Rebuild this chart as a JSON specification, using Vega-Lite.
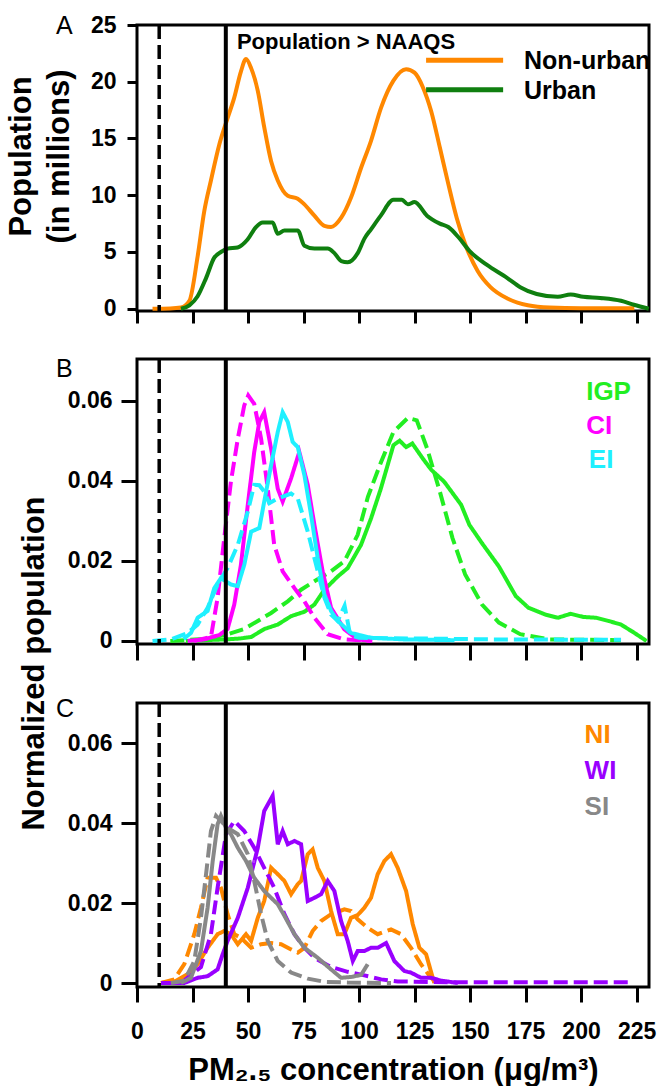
{
  "$schema": "https://vega.github.io/schema/vega-lite/v6.json",
  "padding": {"left": 3, "top": 12, "right": 6, "bottom": 2},
  "background": "white",
  "config": {
    "font": "Liberation Sans",
    "view": {"stroke": "#000", "strokeWidth": 3},
    "axis": {"domain": false, "grid": false, "tickColor": "#000", "tickWidth": 3, "labelFont": "Liberation Sans", "labelFontWeight": "bold", "labelFontSize": 23, "labelColor": "#000", "labelFlush": false, "labelOverlap": false, "titleFont": "Liberation Sans", "titleFontWeight": "bold", "titleFontSize": 31, "titleColor": "#000"}
  },
  "datasets": {
    "a": [
      {"series": "Non-urban", "pm": 7, "pop": 0}, {"series": "Non-urban", "pm": 15, "pop": 0.02}, {"series": "Non-urban", "pm": 19.8, "pop": 0.1}, {"series": "Non-urban", "pm": 23.6, "pop": 0.7}, {"series": "Non-urban", "pm": 27.3, "pop": 4.6}, {"series": "Non-urban", "pm": 30.3, "pop": 8.6}, {"series": "Non-urban", "pm": 33.3, "pop": 11.3}, {"series": "Non-urban", "pm": 37.1, "pop": 14.5}, {"series": "Non-urban", "pm": 40.8, "pop": 16.8}, {"series": "Non-urban", "pm": 43.8, "pop": 18.6}, {"series": "Non-urban", "pm": 46.8, "pop": 20.9}, {"series": "Non-urban", "pm": 49.1, "pop": 22.0}, {"series": "Non-urban", "pm": 51.4, "pop": 21.2}, {"series": "Non-urban", "pm": 54.4, "pop": 19.2}, {"series": "Non-urban", "pm": 57.3, "pop": 16.0}, {"series": "Non-urban", "pm": 60.4, "pop": 13.0}, {"series": "Non-urban", "pm": 63.4, "pop": 11.3}, {"series": "Non-urban", "pm": 67.9, "pop": 9.95}, {"series": "Non-urban", "pm": 72.4, "pop": 9.7}, {"series": "Non-urban", "pm": 75.4, "pop": 9.2}, {"series": "Non-urban", "pm": 79.9, "pop": 8.2}, {"series": "Non-urban", "pm": 84.4, "pop": 7.3}, {"series": "Non-urban", "pm": 87.4, "pop": 7.2}, {"series": "Non-urban", "pm": 91.9, "pop": 8.0}, {"series": "Non-urban", "pm": 96.4, "pop": 9.8}, {"series": "Non-urban", "pm": 100.9, "pop": 12.4}, {"series": "Non-urban", "pm": 105.4, "pop": 14.8}, {"series": "Non-urban", "pm": 109.9, "pop": 17.7}, {"series": "Non-urban", "pm": 115.5, "pop": 20.1}, {"series": "Non-urban", "pm": 121.2, "pop": 21.1}, {"series": "Non-urban", "pm": 125, "pop": 20.8}, {"series": "Non-urban", "pm": 128.8, "pop": 19.5}, {"series": "Non-urban", "pm": 132.5, "pop": 17.4}, {"series": "Non-urban", "pm": 136.4, "pop": 14.2}, {"series": "Non-urban", "pm": 140.2, "pop": 11.0}, {"series": "Non-urban", "pm": 144, "pop": 8.0}, {"series": "Non-urban", "pm": 147.8, "pop": 5.7}, {"series": "Non-urban", "pm": 153.5, "pop": 3.3}, {"series": "Non-urban", "pm": 159.2, "pop": 1.9}, {"series": "Non-urban", "pm": 166.8, "pop": 0.9}, {"series": "Non-urban", "pm": 176, "pop": 0.3}, {"series": "Non-urban", "pm": 185.8, "pop": 0.1}, {"series": "Non-urban", "pm": 200, "pop": 0.05}, {"series": "Non-urban", "pm": 224, "pop": 0.05},
      {"series": "Urban", "pm": 19.8, "pop": 0}, {"series": "Urban", "pm": 23.6, "pop": 0.3}, {"series": "Urban", "pm": 27.3, "pop": 1.1}, {"series": "Urban", "pm": 31.1, "pop": 2.7}, {"series": "Urban", "pm": 34.8, "pop": 4.5}, {"series": "Urban", "pm": 37.8, "pop": 5.0}, {"series": "Urban", "pm": 40.8, "pop": 5.3}, {"series": "Urban", "pm": 45.3, "pop": 5.4}, {"series": "Urban", "pm": 49.8, "pop": 6.1}, {"series": "Urban", "pm": 53.6, "pop": 7.2}, {"series": "Urban", "pm": 56.6, "pop": 7.6}, {"series": "Urban", "pm": 61.1, "pop": 7.6}, {"series": "Urban", "pm": 63.4, "pop": 6.6}, {"series": "Urban", "pm": 66.4, "pop": 6.9}, {"series": "Urban", "pm": 72.4, "pop": 6.9}, {"series": "Urban", "pm": 75.4, "pop": 5.55}, {"series": "Urban", "pm": 79.9, "pop": 5.3}, {"series": "Urban", "pm": 85.9, "pop": 5.3}, {"series": "Urban", "pm": 88.9, "pop": 4.9}, {"series": "Urban", "pm": 92, "pop": 4.2}, {"series": "Urban", "pm": 94.9, "pop": 4.1}, {"series": "Urban", "pm": 99.4, "pop": 4.9}, {"series": "Urban", "pm": 102.5, "pop": 6.2}, {"series": "Urban", "pm": 105.4, "pop": 7.0}, {"series": "Urban", "pm": 109.8, "pop": 8.2}, {"series": "Urban", "pm": 115.5, "pop": 9.6}, {"series": "Urban", "pm": 119.3, "pop": 9.6}, {"series": "Urban", "pm": 122, "pop": 9.2}, {"series": "Urban", "pm": 125, "pop": 9.4}, {"series": "Urban", "pm": 130.6, "pop": 8.2}, {"series": "Urban", "pm": 136.4, "pop": 7.5}, {"series": "Urban", "pm": 140.2, "pop": 7.2}, {"series": "Urban", "pm": 145, "pop": 6.25}, {"series": "Urban", "pm": 149.7, "pop": 5.1}, {"series": "Urban", "pm": 157.3, "pop": 3.9}, {"series": "Urban", "pm": 166.8, "pop": 2.7}, {"series": "Urban", "pm": 172.6, "pop": 1.9}, {"series": "Urban", "pm": 180, "pop": 1.3}, {"series": "Urban", "pm": 189.5, "pop": 1.05}, {"series": "Urban", "pm": 195.3, "pop": 1.25}, {"series": "Urban", "pm": 201, "pop": 1.05}, {"series": "Urban", "pm": 208.6, "pop": 0.95}, {"series": "Urban", "pm": 218, "pop": 0.7}, {"series": "Urban", "pm": 223.8, "pop": 0.35}, {"series": "Urban", "pm": 230.5, "pop": 0}
    ],
    "b": [
      {"region": "IGP", "line": "solid", "pm": 22, "pop": 0}, {"region": "IGP", "line": "solid", "pm": 30, "pop": 0.0002}, {"region": "IGP", "line": "solid", "pm": 40, "pop": 0.0004}, {"region": "IGP", "line": "solid", "pm": 46, "pop": 0.0006}, {"region": "IGP", "line": "solid", "pm": 51.4, "pop": 0.001}, {"region": "IGP", "line": "solid", "pm": 57.4, "pop": 0.003}, {"region": "IGP", "line": "solid", "pm": 63.4, "pop": 0.0041}, {"region": "IGP", "line": "solid", "pm": 69.4, "pop": 0.0062}, {"region": "IGP", "line": "solid", "pm": 75.4, "pop": 0.0073}, {"region": "IGP", "line": "solid", "pm": 79.9, "pop": 0.0091}, {"region": "IGP", "line": "solid", "pm": 84.4, "pop": 0.0128}, {"region": "IGP", "line": "solid", "pm": 90.4, "pop": 0.0161}, {"region": "IGP", "line": "solid", "pm": 94.9, "pop": 0.0182}, {"region": "IGP", "line": "solid", "pm": 100.9, "pop": 0.024}, {"region": "IGP", "line": "solid", "pm": 105.4, "pop": 0.0306}, {"region": "IGP", "line": "solid", "pm": 109.8, "pop": 0.038}, {"region": "IGP", "line": "solid", "pm": 115.5, "pop": 0.0489}, {"region": "IGP", "line": "solid", "pm": 118.3, "pop": 0.05}, {"region": "IGP", "line": "solid", "pm": 121.2, "pop": 0.0484}, {"region": "IGP", "line": "solid", "pm": 124, "pop": 0.0493}, {"region": "IGP", "line": "solid", "pm": 128.8, "pop": 0.0455}, {"region": "IGP", "line": "solid", "pm": 132.6, "pop": 0.0427}, {"region": "IGP", "line": "solid", "pm": 138.3, "pop": 0.0398}, {"region": "IGP", "line": "solid", "pm": 146, "pop": 0.034}, {"region": "IGP", "line": "solid", "pm": 149.7, "pop": 0.029}, {"region": "IGP", "line": "solid", "pm": 155.4, "pop": 0.0244}, {"region": "IGP", "line": "solid", "pm": 163, "pop": 0.0186}, {"region": "IGP", "line": "solid", "pm": 170.6, "pop": 0.0112}, {"region": "IGP", "line": "solid", "pm": 176.3, "pop": 0.0083}, {"region": "IGP", "line": "solid", "pm": 183.9, "pop": 0.0066}, {"region": "IGP", "line": "solid", "pm": 189.6, "pop": 0.0058}, {"region": "IGP", "line": "solid", "pm": 195.3, "pop": 0.0068}, {"region": "IGP", "line": "solid", "pm": 201, "pop": 0.006}, {"region": "IGP", "line": "solid", "pm": 206.7, "pop": 0.0058}, {"region": "IGP", "line": "solid", "pm": 212.4, "pop": 0.005}, {"region": "IGP", "line": "solid", "pm": 218, "pop": 0.0041}, {"region": "IGP", "line": "solid", "pm": 223.8, "pop": 0.0021}, {"region": "IGP", "line": "solid", "pm": 229.5, "pop": 0},
      {"region": "IGP", "line": "dashed", "pm": 15, "pop": 0}, {"region": "IGP", "line": "dashed", "pm": 30, "pop": 0.0005}, {"region": "IGP", "line": "dashed", "pm": 40.8, "pop": 0.0017}, {"region": "IGP", "line": "dashed", "pm": 48.3, "pop": 0.003}, {"region": "IGP", "line": "dashed", "pm": 54.4, "pop": 0.005}, {"region": "IGP", "line": "dashed", "pm": 60.4, "pop": 0.007}, {"region": "IGP", "line": "dashed", "pm": 67.9, "pop": 0.0099}, {"region": "IGP", "line": "dashed", "pm": 73.9, "pop": 0.0128}, {"region": "IGP", "line": "dashed", "pm": 79.9, "pop": 0.0149}, {"region": "IGP", "line": "dashed", "pm": 87.4, "pop": 0.0174}, {"region": "IGP", "line": "dashed", "pm": 93.4, "pop": 0.0199}, {"region": "IGP", "line": "dashed", "pm": 99.4, "pop": 0.0265}, {"region": "IGP", "line": "dashed", "pm": 104, "pop": 0.036}, {"region": "IGP", "line": "dashed", "pm": 109.8, "pop": 0.0445}, {"region": "IGP", "line": "dashed", "pm": 115.5, "pop": 0.0522}, {"region": "IGP", "line": "dashed", "pm": 122, "pop": 0.0557}, {"region": "IGP", "line": "dashed", "pm": 126, "pop": 0.0551}, {"region": "IGP", "line": "dashed", "pm": 130.7, "pop": 0.048}, {"region": "IGP", "line": "dashed", "pm": 136.4, "pop": 0.0373}, {"region": "IGP", "line": "dashed", "pm": 142.1, "pop": 0.0257}, {"region": "IGP", "line": "dashed", "pm": 147.8, "pop": 0.0166}, {"region": "IGP", "line": "dashed", "pm": 155.4, "pop": 0.0091}, {"region": "IGP", "line": "dashed", "pm": 163, "pop": 0.0046}, {"region": "IGP", "line": "dashed", "pm": 172.6, "pop": 0.0017}, {"region": "IGP", "line": "dashed", "pm": 185.8, "pop": 0.0004}, {"region": "IGP", "line": "dashed", "pm": 218, "pop": 0.0002},
      {"region": "CI", "line": "solid", "pm": 22.8, "pop": 0}, {"region": "CI", "line": "solid", "pm": 30.3, "pop": 0.0004}, {"region": "CI", "line": "solid", "pm": 37.1, "pop": 0.0015}, {"region": "CI", "line": "solid", "pm": 40.8, "pop": 0.003}, {"region": "CI", "line": "solid", "pm": 43.8, "pop": 0.0091}, {"region": "CI", "line": "solid", "pm": 46.8, "pop": 0.019}, {"region": "CI", "line": "solid", "pm": 49.9, "pop": 0.034}, {"region": "CI", "line": "solid", "pm": 52.8, "pop": 0.0472}, {"region": "CI", "line": "solid", "pm": 55.1, "pop": 0.0547}, {"region": "CI", "line": "solid", "pm": 57.3, "pop": 0.0571}, {"region": "CI", "line": "solid", "pm": 60.4, "pop": 0.048}, {"region": "CI", "line": "solid", "pm": 63.4, "pop": 0.038}, {"region": "CI", "line": "solid", "pm": 65.6, "pop": 0.0348}, {"region": "CI", "line": "solid", "pm": 69.4, "pop": 0.0406}, {"region": "CI", "line": "solid", "pm": 73.1, "pop": 0.0472}, {"region": "CI", "line": "solid", "pm": 76.9, "pop": 0.039}, {"region": "CI", "line": "solid", "pm": 79.9, "pop": 0.029}, {"region": "CI", "line": "solid", "pm": 83.6, "pop": 0.0174}, {"region": "CI", "line": "solid", "pm": 87.4, "pop": 0.0083}, {"region": "CI", "line": "solid", "pm": 93.4, "pop": 0.0029}, {"region": "CI", "line": "solid", "pm": 99.4, "pop": 0.0004}, {"region": "CI", "line": "solid", "pm": 106, "pop": 0},
      {"region": "CI", "line": "dashed", "pm": 25.7, "pop": 0}, {"region": "CI", "line": "dashed", "pm": 33.3, "pop": 0.001}, {"region": "CI", "line": "dashed", "pm": 36.3, "pop": 0.0108}, {"region": "CI", "line": "dashed", "pm": 39.3, "pop": 0.0257}, {"region": "CI", "line": "dashed", "pm": 42.3, "pop": 0.0398}, {"region": "CI", "line": "dashed", "pm": 45.4, "pop": 0.0505}, {"region": "CI", "line": "dashed", "pm": 48.3, "pop": 0.0588}, {"region": "CI", "line": "dashed", "pm": 50.1, "pop": 0.0613}, {"region": "CI", "line": "dashed", "pm": 52.8, "pop": 0.0592}, {"region": "CI", "line": "dashed", "pm": 55.9, "pop": 0.0505}, {"region": "CI", "line": "dashed", "pm": 58.9, "pop": 0.038}, {"region": "CI", "line": "dashed", "pm": 61.8, "pop": 0.024}, {"region": "CI", "line": "dashed", "pm": 65.6, "pop": 0.0174}, {"region": "CI", "line": "dashed", "pm": 70.9, "pop": 0.0132}, {"region": "CI", "line": "dashed", "pm": 75.4, "pop": 0.0099}, {"region": "CI", "line": "dashed", "pm": 79.9, "pop": 0.0058}, {"region": "CI", "line": "dashed", "pm": 85.9, "pop": 0.0017}, {"region": "CI", "line": "dashed", "pm": 93.4, "pop": 0.0004}, {"region": "CI", "line": "dashed", "pm": 105.4, "pop": 0},
      {"region": "EI", "line": "solid", "pm": 21, "pop": 0.0005}, {"region": "EI", "line": "solid", "pm": 24.3, "pop": 0.002}, {"region": "EI", "line": "solid", "pm": 27.3, "pop": 0.0058}, {"region": "EI", "line": "solid", "pm": 31.8, "pop": 0.0075}, {"region": "EI", "line": "solid", "pm": 34.8, "pop": 0.0132}, {"region": "EI", "line": "solid", "pm": 37.8, "pop": 0.0157}, {"region": "EI", "line": "solid", "pm": 42.3, "pop": 0.0141}, {"region": "EI", "line": "solid", "pm": 45.4, "pop": 0.0137}, {"region": "EI", "line": "solid", "pm": 48.3, "pop": 0.019}, {"region": "EI", "line": "solid", "pm": 51.4, "pop": 0.0273}, {"region": "EI", "line": "solid", "pm": 55.1, "pop": 0.0282}, {"region": "EI", "line": "solid", "pm": 57.3, "pop": 0.0348}, {"region": "EI", "line": "solid", "pm": 60.4, "pop": 0.0439}, {"region": "EI", "line": "solid", "pm": 63.4, "pop": 0.0522}, {"region": "EI", "line": "solid", "pm": 65.6, "pop": 0.0571}, {"region": "EI", "line": "solid", "pm": 67.9, "pop": 0.0547}, {"region": "EI", "line": "solid", "pm": 70.1, "pop": 0.0497}, {"region": "EI", "line": "solid", "pm": 72.4, "pop": 0.0484}, {"region": "EI", "line": "solid", "pm": 75.4, "pop": 0.0414}, {"region": "EI", "line": "solid", "pm": 78.4, "pop": 0.0315}, {"region": "EI", "line": "solid", "pm": 81.4, "pop": 0.0207}, {"region": "EI", "line": "solid", "pm": 84.4, "pop": 0.0116}, {"region": "EI", "line": "solid", "pm": 87.4, "pop": 0.0075}, {"region": "EI", "line": "solid", "pm": 90.4, "pop": 0.005}, {"region": "EI", "line": "solid", "pm": 96.4, "pop": 0.002}, {"region": "EI", "line": "solid", "pm": 105.4, "pop": 0.0008}, {"region": "EI", "line": "solid", "pm": 120, "pop": 0.0004}, {"region": "EI", "line": "solid", "pm": 143, "pop": 0.0002},
      {"region": "EI", "line": "dashed", "pm": 7, "pop": 0}, {"region": "EI", "line": "dashed", "pm": 15.3, "pop": 0.0004}, {"region": "EI", "line": "dashed", "pm": 22.8, "pop": 0.002}, {"region": "EI", "line": "dashed", "pm": 27.3, "pop": 0.0041}, {"region": "EI", "line": "dashed", "pm": 31.8, "pop": 0.0083}, {"region": "EI", "line": "dashed", "pm": 36.3, "pop": 0.0141}, {"region": "EI", "line": "dashed", "pm": 40.8, "pop": 0.0182}, {"region": "EI", "line": "dashed", "pm": 45.4, "pop": 0.024}, {"region": "EI", "line": "dashed", "pm": 49.9, "pop": 0.0323}, {"region": "EI", "line": "dashed", "pm": 52.8, "pop": 0.039}, {"region": "EI", "line": "dashed", "pm": 55.1, "pop": 0.0389}, {"region": "EI", "line": "dashed", "pm": 57.3, "pop": 0.0373}, {"region": "EI", "line": "dashed", "pm": 59.6, "pop": 0.0344}, {"region": "EI", "line": "dashed", "pm": 63.4, "pop": 0.0356}, {"region": "EI", "line": "dashed", "pm": 69.4, "pop": 0.0368}, {"region": "EI", "line": "dashed", "pm": 72.4, "pop": 0.0356}, {"region": "EI", "line": "dashed", "pm": 76.9, "pop": 0.0273}, {"region": "EI", "line": "dashed", "pm": 81.4, "pop": 0.0174}, {"region": "EI", "line": "dashed", "pm": 84.4, "pop": 0.0108}, {"region": "EI", "line": "dashed", "pm": 87.4, "pop": 0.0066}, {"region": "EI", "line": "dashed", "pm": 90.4, "pop": 0.005}, {"region": "EI", "line": "dashed", "pm": 93.5, "pop": 0.0088}, {"region": "EI", "line": "dashed", "pm": 96, "pop": 0.0015}, {"region": "EI", "line": "dashed", "pm": 100, "pop": 0.0008}, {"region": "EI", "line": "dashed", "pm": 160, "pop": 0.0004}, {"region": "EI", "line": "dashed", "pm": 218, "pop": 0.0003}
    ],
    "c": [
      {"region": "NI", "line": "solid", "pm": 10.8, "pop": 0}, {"region": "NI", "line": "solid", "pm": 16.8, "pop": 0.0003}, {"region": "NI", "line": "solid", "pm": 22.8, "pop": 0.0022}, {"region": "NI", "line": "solid", "pm": 27.3, "pop": 0.0047}, {"region": "NI", "line": "solid", "pm": 31.8, "pop": 0.0088}, {"region": "NI", "line": "solid", "pm": 36.3, "pop": 0.0122}, {"region": "NI", "line": "solid", "pm": 39.3, "pop": 0.013}, {"region": "NI", "line": "solid", "pm": 42.3, "pop": 0.0122}, {"region": "NI", "line": "solid", "pm": 45.4, "pop": 0.0097}, {"region": "NI", "line": "solid", "pm": 49.1, "pop": 0.0122}, {"region": "NI", "line": "solid", "pm": 51.4, "pop": 0.0105}, {"region": "NI", "line": "solid", "pm": 54.4, "pop": 0.0163}, {"region": "NI", "line": "solid", "pm": 57.3, "pop": 0.0205}, {"region": "NI", "line": "solid", "pm": 60.4, "pop": 0.0288}, {"region": "NI", "line": "solid", "pm": 63.4, "pop": 0.0272}, {"region": "NI", "line": "solid", "pm": 66.4, "pop": 0.0255}, {"region": "NI", "line": "solid", "pm": 69.4, "pop": 0.0222}, {"region": "NI", "line": "solid", "pm": 72.4, "pop": 0.0247}, {"region": "NI", "line": "solid", "pm": 73.9, "pop": 0.0255}, {"region": "NI", "line": "solid", "pm": 76.9, "pop": 0.0322}, {"region": "NI", "line": "solid", "pm": 79.1, "pop": 0.0334}, {"region": "NI", "line": "solid", "pm": 81.4, "pop": 0.0288}, {"region": "NI", "line": "solid", "pm": 84.4, "pop": 0.0255}, {"region": "NI", "line": "solid", "pm": 87.4, "pop": 0.018}, {"region": "NI", "line": "solid", "pm": 90.4, "pop": 0.0122}, {"region": "NI", "line": "solid", "pm": 93.4, "pop": 0.0122}, {"region": "NI", "line": "solid", "pm": 96.4, "pop": 0.0163}, {"region": "NI", "line": "solid", "pm": 99.4, "pop": 0.017}, {"region": "NI", "line": "solid", "pm": 102.4, "pop": 0.0188}, {"region": "NI", "line": "solid", "pm": 105.4, "pop": 0.0213}, {"region": "NI", "line": "solid", "pm": 108.4, "pop": 0.0272}, {"region": "NI", "line": "solid", "pm": 111.4, "pop": 0.0305}, {"region": "NI", "line": "solid", "pm": 114.4, "pop": 0.0322}, {"region": "NI", "line": "solid", "pm": 117.4, "pop": 0.0288}, {"region": "NI", "line": "solid", "pm": 121.2, "pop": 0.023}, {"region": "NI", "line": "solid", "pm": 124.2, "pop": 0.0147}, {"region": "NI", "line": "solid", "pm": 127.2, "pop": 0.0088}, {"region": "NI", "line": "solid", "pm": 130.2, "pop": 0.0072}, {"region": "NI", "line": "solid", "pm": 133.2, "pop": 0.0013}, {"region": "NI", "line": "solid", "pm": 133.9, "pop": 0},
      {"region": "NI", "line": "dashed", "pm": 10.8, "pop": 0}, {"region": "NI", "line": "dashed", "pm": 16.8, "pop": 0.0009}, {"region": "NI", "line": "dashed", "pm": 21.3, "pop": 0.0047}, {"region": "NI", "line": "dashed", "pm": 25.8, "pop": 0.0122}, {"region": "NI", "line": "dashed", "pm": 28.8, "pop": 0.0188}, {"region": "NI", "line": "dashed", "pm": 31.8, "pop": 0.0263}, {"region": "NI", "line": "dashed", "pm": 35.6, "pop": 0.0263}, {"region": "NI", "line": "dashed", "pm": 37.8, "pop": 0.0238}, {"region": "NI", "line": "dashed", "pm": 40.8, "pop": 0.0172}, {"region": "NI", "line": "dashed", "pm": 43.8, "pop": 0.0122}, {"region": "NI", "line": "dashed", "pm": 46.8, "pop": 0.0113}, {"region": "NI", "line": "dashed", "pm": 51.4, "pop": 0.0088}, {"region": "NI", "line": "dashed", "pm": 55.9, "pop": 0.0097}, {"region": "NI", "line": "dashed", "pm": 60.4, "pop": 0.01}, {"region": "NI", "line": "dashed", "pm": 64.9, "pop": 0.0097}, {"region": "NI", "line": "dashed", "pm": 69.4, "pop": 0.0084}, {"region": "NI", "line": "dashed", "pm": 72.4, "pop": 0.0076}, {"region": "NI", "line": "dashed", "pm": 75.4, "pop": 0.0088}, {"region": "NI", "line": "dashed", "pm": 79.1, "pop": 0.013}, {"region": "NI", "line": "dashed", "pm": 82.9, "pop": 0.0155}, {"region": "NI", "line": "dashed", "pm": 87.4, "pop": 0.0172}, {"region": "NI", "line": "dashed", "pm": 93.4, "pop": 0.0184}, {"region": "NI", "line": "dashed", "pm": 96.4, "pop": 0.018}, {"region": "NI", "line": "dashed", "pm": 99.4, "pop": 0.0159}, {"region": "NI", "line": "dashed", "pm": 103.9, "pop": 0.0138}, {"region": "NI", "line": "dashed", "pm": 108.4, "pop": 0.0122}, {"region": "NI", "line": "dashed", "pm": 114.4, "pop": 0.0134}, {"region": "NI", "line": "dashed", "pm": 118.9, "pop": 0.0122}, {"region": "NI", "line": "dashed", "pm": 123.4, "pop": 0.0088}, {"region": "NI", "line": "dashed", "pm": 127.9, "pop": 0.0047}, {"region": "NI", "line": "dashed", "pm": 132.4, "pop": 0.0013}, {"region": "NI", "line": "dashed", "pm": 135.4, "pop": 0},
      {"region": "WI", "line": "solid", "pm": 10.8, "pop": 0}, {"region": "WI", "line": "solid", "pm": 21.3, "pop": 0}, {"region": "WI", "line": "solid", "pm": 27.3, "pop": 0.0013}, {"region": "WI", "line": "solid", "pm": 31.8, "pop": 0.0017}, {"region": "WI", "line": "solid", "pm": 36.3, "pop": 0.0034}, {"region": "WI", "line": "solid", "pm": 38.6, "pop": 0.0072}, {"region": "WI", "line": "solid", "pm": 40.8, "pop": 0.0105}, {"region": "WI", "line": "solid", "pm": 45.4, "pop": 0.0163}, {"region": "WI", "line": "solid", "pm": 49.9, "pop": 0.0238}, {"region": "WI", "line": "solid", "pm": 54.4, "pop": 0.0338}, {"region": "WI", "line": "solid", "pm": 57.3, "pop": 0.043}, {"region": "WI", "line": "solid", "pm": 61.1, "pop": 0.0468}, {"region": "WI", "line": "solid", "pm": 63.4, "pop": 0.0347}, {"region": "WI", "line": "solid", "pm": 65.6, "pop": 0.038}, {"region": "WI", "line": "solid", "pm": 67.9, "pop": 0.0347}, {"region": "WI", "line": "solid", "pm": 70.9, "pop": 0.0355}, {"region": "WI", "line": "solid", "pm": 73.9, "pop": 0.0347}, {"region": "WI", "line": "solid", "pm": 76.9, "pop": 0.0205}, {"region": "WI", "line": "solid", "pm": 79.9, "pop": 0.0213}, {"region": "WI", "line": "solid", "pm": 82.9, "pop": 0.0222}, {"region": "WI", "line": "solid", "pm": 85.9, "pop": 0.0255}, {"region": "WI", "line": "solid", "pm": 88.9, "pop": 0.023}, {"region": "WI", "line": "solid", "pm": 91.9, "pop": 0.0155}, {"region": "WI", "line": "solid", "pm": 94.9, "pop": 0.0105}, {"region": "WI", "line": "solid", "pm": 97.2, "pop": 0.0055}, {"region": "WI", "line": "solid", "pm": 99.4, "pop": 0.008}, {"region": "WI", "line": "solid", "pm": 102.4, "pop": 0.008}, {"region": "WI", "line": "solid", "pm": 105.4, "pop": 0.0088}, {"region": "WI", "line": "solid", "pm": 108.4, "pop": 0.0088}, {"region": "WI", "line": "solid", "pm": 112.2, "pop": 0.01}, {"region": "WI", "line": "solid", "pm": 115.9, "pop": 0.0055}, {"region": "WI", "line": "solid", "pm": 120.4, "pop": 0.003}, {"region": "WI", "line": "solid", "pm": 123.4, "pop": 0.0026}, {"region": "WI", "line": "solid", "pm": 127.9, "pop": 0.0013}, {"region": "WI", "line": "solid", "pm": 132.4, "pop": 0.0013}, {"region": "WI", "line": "solid", "pm": 136.9, "pop": 0.0006}, {"region": "WI", "line": "solid", "pm": 144.5, "pop": 0},
      {"region": "WI", "line": "dashed", "pm": 19.8, "pop": 0}, {"region": "WI", "line": "dashed", "pm": 28.8, "pop": 0.004}, {"region": "WI", "line": "dashed", "pm": 33.3, "pop": 0.0122}, {"region": "WI", "line": "dashed", "pm": 36.3, "pop": 0.0238}, {"region": "WI", "line": "dashed", "pm": 40.1, "pop": 0.0372}, {"region": "WI", "line": "dashed", "pm": 43.8, "pop": 0.0405}, {"region": "WI", "line": "dashed", "pm": 48.3, "pop": 0.038}, {"region": "WI", "line": "dashed", "pm": 52.8, "pop": 0.0338}, {"region": "WI", "line": "dashed", "pm": 57.3, "pop": 0.0288}, {"region": "WI", "line": "dashed", "pm": 61.8, "pop": 0.0238}, {"region": "WI", "line": "dashed", "pm": 66.4, "pop": 0.0172}, {"region": "WI", "line": "dashed", "pm": 70.9, "pop": 0.0122}, {"region": "WI", "line": "dashed", "pm": 75.4, "pop": 0.0088}, {"region": "WI", "line": "dashed", "pm": 79.9, "pop": 0.0063}, {"region": "WI", "line": "dashed", "pm": 87.4, "pop": 0.004}, {"region": "WI", "line": "dashed", "pm": 94.9, "pop": 0.0028}, {"region": "WI", "line": "dashed", "pm": 102.4, "pop": 0.0019}, {"region": "WI", "line": "dashed", "pm": 110, "pop": 0.0009}, {"region": "WI", "line": "dashed", "pm": 117.4, "pop": 0.0004}, {"region": "WI", "line": "dashed", "pm": 140, "pop": 0.0002}, {"region": "WI", "line": "dashed", "pm": 223, "pop": 0.0002},
      {"region": "SI", "line": "solid", "pm": 19.8, "pop": 0}, {"region": "SI", "line": "solid", "pm": 24.3, "pop": 0.0013}, {"region": "SI", "line": "solid", "pm": 28.8, "pop": 0.008}, {"region": "SI", "line": "solid", "pm": 31.8, "pop": 0.0188}, {"region": "SI", "line": "solid", "pm": 34.1, "pop": 0.0305}, {"region": "SI", "line": "solid", "pm": 36.3, "pop": 0.0397}, {"region": "SI", "line": "solid", "pm": 37.8, "pop": 0.0418}, {"region": "SI", "line": "solid", "pm": 40.1, "pop": 0.0388}, {"region": "SI", "line": "solid", "pm": 42.3, "pop": 0.0372}, {"region": "SI", "line": "solid", "pm": 45.4, "pop": 0.0338}, {"region": "SI", "line": "solid", "pm": 49.1, "pop": 0.0305}, {"region": "SI", "line": "solid", "pm": 52.8, "pop": 0.0263}, {"region": "SI", "line": "solid", "pm": 57.3, "pop": 0.023}, {"region": "SI", "line": "solid", "pm": 60.4, "pop": 0.0213}, {"region": "SI", "line": "solid", "pm": 63.4, "pop": 0.0197}, {"region": "SI", "line": "solid", "pm": 66.4, "pop": 0.0168}, {"region": "SI", "line": "solid", "pm": 70.9, "pop": 0.0122}, {"region": "SI", "line": "solid", "pm": 75.4, "pop": 0.0088}, {"region": "SI", "line": "solid", "pm": 81.4, "pop": 0.0063}, {"region": "SI", "line": "solid", "pm": 87.4, "pop": 0.0034}, {"region": "SI", "line": "solid", "pm": 91.9, "pop": 0.0013}, {"region": "SI", "line": "solid", "pm": 96.4, "pop": 0.0015}, {"region": "SI", "line": "solid", "pm": 100.9, "pop": 0.002}, {"region": "SI", "line": "solid", "pm": 103.9, "pop": 0.0047},
      {"region": "SI", "line": "dashed", "pm": 15.3, "pop": 0}, {"region": "SI", "line": "dashed", "pm": 21.3, "pop": 0.0006}, {"region": "SI", "line": "dashed", "pm": 25.8, "pop": 0.0055}, {"region": "SI", "line": "dashed", "pm": 28.8, "pop": 0.0163}, {"region": "SI", "line": "dashed", "pm": 31.1, "pop": 0.0272}, {"region": "SI", "line": "dashed", "pm": 33.3, "pop": 0.038}, {"region": "SI", "line": "dashed", "pm": 35.6, "pop": 0.0418}, {"region": "SI", "line": "dashed", "pm": 37.8, "pop": 0.0405}, {"region": "SI", "line": "dashed", "pm": 40.8, "pop": 0.0388}, {"region": "SI", "line": "dashed", "pm": 45.4, "pop": 0.0372}, {"region": "SI", "line": "dashed", "pm": 49.9, "pop": 0.0322}, {"region": "SI", "line": "dashed", "pm": 52.8, "pop": 0.0255}, {"region": "SI", "line": "dashed", "pm": 55.9, "pop": 0.0172}, {"region": "SI", "line": "dashed", "pm": 58.9, "pop": 0.0105}, {"region": "SI", "line": "dashed", "pm": 63.4, "pop": 0.0055}, {"region": "SI", "line": "dashed", "pm": 69.4, "pop": 0.0026}, {"region": "SI", "line": "dashed", "pm": 76.9, "pop": 0.0011}, {"region": "SI", "line": "dashed", "pm": 84.4, "pop": 0.0003}, {"region": "SI", "line": "dashed", "pm": 94.9, "pop": 0.0001}, {"region": "SI", "line": "dashed", "pm": 114.4, "pop": 0}
    ]
  },
  "spacing": 48,
  "bounds": "flush",
  "resolve": {"scale": {"color": "independent", "strokeDash": "independent"}},
  "vconcat": [
    {
      "width": 512, "height": 286,
      "layer": [
        {
          "data": {"name": "a"},
          "mark": {"type": "line", "interpolate": "monotone", "strokeWidth": 4},
          "encoding": {
            "x": {"field": "pm", "type": "quantitative", "scale": {"domain": [0, 230.6], "nice": false, "zero": false}, "axis": {"values": [0, 25, 50, 75, 100, 125, 150, 175, 200, 225], "labels": false, "tickSize": 12, "title": null}},
            "y": {"field": "pop", "type": "quantitative", "scale": {"domain": [-0.2, 25], "nice": false, "zero": false}, "axis": {"values": [0, 5, 10, 15, 20, 25], "tickSize": 10, "labelPadding": 11, "title": ["Population", "(in millions)"], "titleLineHeight": 38, "titleX": -100, "titleY": 131}},
            "color": {"field": "series", "type": "nominal", "scale": {"domain": ["Non-urban", "Urban"], "range": ["#ff8800", "#0f7f0f"]}, "legend": null}
          }
        },
        {"data": {"values": [{}]}, "mark": {"type": "rule", "strokeWidth": 3.5, "strokeDash": [14, 6], "color": "#000"}, "encoding": {"x": {"datum": 10}}},
        {"data": {"values": [{}]}, "mark": {"type": "rule", "strokeWidth": 4, "color": "#000"}, "encoding": {"x": {"datum": 40}}},
        {"data": {"values": [{}]}, "mark": {"type": "text", "align": "left", "baseline": "middle", "fontSize": 25, "color": "#000"}, "encoding": {"x": {"datum": -36.5}, "y": {"datum": 24.9}, "text": {"value": "A"}}},
        {"data": {"values": [{}]}, "mark": {"type": "text", "align": "left", "baseline": "middle", "fontSize": 22, "fontWeight": "bold", "color": "#000"}, "encoding": {"x": {"datum": 45}, "y": {"datum": 23.5}, "text": {"value": "Population > NAAQS"}}},
        {"data": {"values": [{}]}, "mark": {"type": "rule", "strokeWidth": 5, "color": "#ff8800"}, "encoding": {"x": {"datum": 130.2}, "x2": {"datum": 164.9}, "y": {"datum": 21.9}}},
        {"data": {"values": [{}]}, "mark": {"type": "rule", "strokeWidth": 5, "color": "#0f7f0f"}, "encoding": {"x": {"datum": 130.2}, "x2": {"datum": 164.9}, "y": {"datum": 19.3}}},
        {"data": {"values": [{}]}, "mark": {"type": "text", "align": "left", "baseline": "middle", "fontSize": 25, "fontWeight": "bold", "color": "#000"}, "encoding": {"x": {"datum": 174.3}, "y": {"datum": 21.8}, "text": {"value": "Non-urban"}}},
        {"data": {"values": [{}]}, "mark": {"type": "text", "align": "left", "baseline": "middle", "fontSize": 25, "fontWeight": "bold", "color": "#000"}, "encoding": {"x": {"datum": 174.3}, "y": {"datum": 19.2}, "text": {"value": "Urban"}}}
      ]
    },
    {
      "spacing": 59,
      "bounds": "flush",
      "resolve": {"scale": {"color": "independent", "strokeDash": "independent"}},
      "vconcat": [
        {
          "width": 512, "height": 285,
          "layer": [
            {
              "data": {"name": "b"},
              "mark": {"type": "line", "strokeWidth": 4},
              "encoding": {
                "x": {"field": "pm", "type": "quantitative", "scale": {"domain": [0, 230.6], "nice": false, "zero": false}, "axis": {"values": [0, 25, 50, 75, 100, 125, 150, 175, 200, 225], "labels": false, "tickSize": 16, "title": null}},
                "y": {"field": "pop", "type": "quantitative", "scale": {"domain": [-0.00075, 0.0704], "nice": false, "zero": false}, "axis": {"values": [0, 0.02, 0.04, 0.06], "format": "~g", "tickSize": 16, "labelPadding": 9, "title": null}},
                "color": {"field": "region", "type": "nominal", "scale": {"domain": ["IGP", "CI", "EI"], "range": ["#22ee22", "#ff00ff", "#1ff0ff"]}, "legend": null},
                "strokeDash": {"field": "line", "type": "nominal", "scale": {"domain": ["solid", "dashed"], "range": [[1, 0], [14, 6]]}, "legend": null}
              }
            },
            {"data": {"values": [{}]}, "mark": {"type": "rule", "strokeWidth": 3.5, "strokeDash": [14, 6], "color": "#000"}, "encoding": {"x": {"datum": 10}}},
            {"data": {"values": [{}]}, "mark": {"type": "rule", "strokeWidth": 4, "color": "#000"}, "encoding": {"x": {"datum": 40}}},
            {"data": {"values": [{}]}, "mark": {"type": "text", "align": "left", "baseline": "middle", "fontSize": 25, "color": "#000"}, "encoding": {"x": {"datum": -36.5}, "y": {"datum": 0.0678}, "text": {"value": "B"}}},
            {"data": {"values": [{}]}, "mark": {"type": "text", "align": "left", "baseline": "middle", "fontSize": 26, "fontWeight": "bold", "color": "#22ee22"}, "encoding": {"x": {"datum": 202.3}, "y": {"datum": 0.0621}, "text": {"value": "IGP"}}},
            {"data": {"values": [{}]}, "mark": {"type": "text", "align": "left", "baseline": "middle", "fontSize": 26, "fontWeight": "bold", "color": "#ff00ff"}, "encoding": {"x": {"datum": 202.3}, "y": {"datum": 0.0537}, "text": {"value": "CI"}}},
            {"data": {"values": [{}]}, "mark": {"type": "text", "align": "left", "baseline": "middle", "fontSize": 26, "fontWeight": "bold", "color": "#1ff0ff"}, "encoding": {"x": {"datum": 203.5}, "y": {"datum": 0.0452}, "text": {"value": "EI"}}}
          ]
        },
        {
          "width": 512, "height": 284,
          "layer": [
            {
              "data": {"name": "c"},
              "mark": {"type": "line", "strokeWidth": 4},
              "encoding": {
                "x": {"field": "pm", "type": "quantitative", "scale": {"domain": [0, 230.6], "nice": false, "zero": false}, "axis": {"values": [0, 25, 50, 75, 100, 125, 150, 175, 200, 225], "tickSize": 15, "labelPadding": 18, "title": "PM₂.₅ concentration (μg/m³)", "titlePadding": 12}},
                "y": {"field": "pop", "type": "quantitative", "scale": {"domain": [-0.001, 0.07], "nice": false, "zero": false}, "axis": {"values": [0, 0.02, 0.04, 0.06], "format": "~g", "tickSize": 16, "labelPadding": 9, "title": "Normalized population", "titleX": -87, "titleY": -40}},
                "color": {"field": "region", "type": "nominal", "scale": {"domain": ["NI", "WI", "SI"], "range": ["#ff8800", "#9900ff", "#888888"]}, "legend": null},
                "strokeDash": {"field": "line", "type": "nominal", "scale": {"domain": ["solid", "dashed"], "range": [[1, 0], [14, 6]]}, "legend": null}
              }
            },
            {"data": {"values": [{}]}, "mark": {"type": "rule", "strokeWidth": 3.5, "strokeDash": [14, 6], "color": "#000"}, "encoding": {"x": {"datum": 10}}},
            {"data": {"values": [{}]}, "mark": {"type": "rule", "strokeWidth": 4, "color": "#000"}, "encoding": {"x": {"datum": 40}}},
            {"data": {"values": [{}]}, "mark": {"type": "text", "align": "left", "baseline": "middle", "fontSize": 25, "color": "#000"}, "encoding": {"x": {"datum": -36.5}, "y": {"datum": 0.0685}, "text": {"value": "C"}}},
            {"data": {"values": [{}]}, "mark": {"type": "text", "align": "left", "baseline": "middle", "fontSize": 26, "fontWeight": "bold", "color": "#ff8800"}, "encoding": {"x": {"datum": 201.6}, "y": {"datum": 0.062}, "text": {"value": "NI"}}},
            {"data": {"values": [{}]}, "mark": {"type": "text", "align": "left", "baseline": "middle", "fontSize": 26, "fontWeight": "bold", "color": "#9900ff"}, "encoding": {"x": {"datum": 201.6}, "y": {"datum": 0.053}, "text": {"value": "WI"}}},
            {"data": {"values": [{}]}, "mark": {"type": "text", "align": "left", "baseline": "middle", "fontSize": 26, "fontWeight": "bold", "color": "#888888"}, "encoding": {"x": {"datum": 201.6}, "y": {"datum": 0.044}, "text": {"value": "SI"}}}
          ]
        }
      ]
    }
  ]
}
